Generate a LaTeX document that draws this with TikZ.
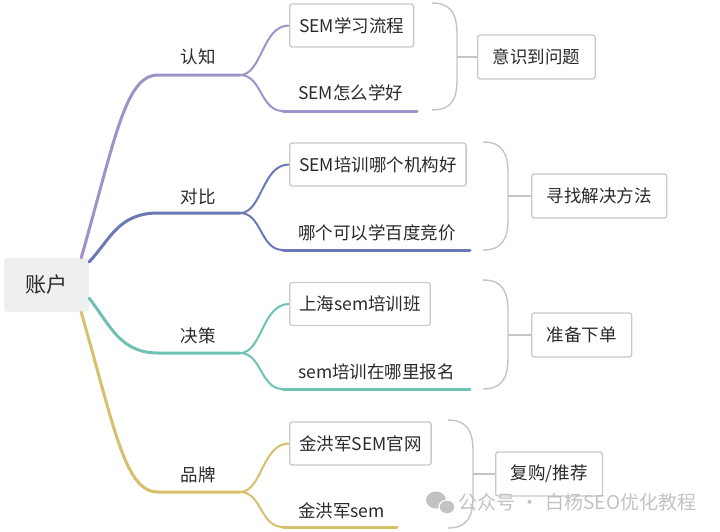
\documentclass[tikz,border=0pt]{standalone}
\usepackage{fontspec}
\setmainfont{Noto Sans CJK SC}
\usepackage{tikz}
\usetikzlibrary{arrows}

\definecolor{cogn}{HTML}{9E93C9}
\definecolor{comp}{HTML}{6C77B6}
\definecolor{deci}{HTML}{6FC1B3}
\definecolor{brand}{HTML}{D8BF6A}
\definecolor{boxgray}{HTML}{C9C9C9}
\definecolor{bracegray}{HTML}{C4C4C4}
\definecolor{rootfill}{HTML}{EEF0F0}
\definecolor{txt}{HTML}{2A2A2A}
\definecolor{wm}{HTML}{C2C2C2}

\begin{document}
\begin{tikzpicture}[x=1pt, y=-1pt,
    word/.style={inner sep=0pt, text=txt, font=\fontsize{17.5}{20}\selectfont},
    leaf/.style={word, draw=boxgray, line width=1.3pt, rounded corners=2.5pt,
      fill=white, inner xsep=9.5pt, minimum height=43pt},
    goal/.style={leaf, inner xsep=15pt, minimum height=44pt},
    limb/.style={line width=3pt, line cap=round},
    twig/.style={line width=2pt},
    brace/.style={draw=bracegray, line width=1.4pt}]
    \useasboundingbox (0,0) rectangle (720,531);

    % root
    \node[fill=rootfill, rounded corners=4pt, minimum width=85pt, minimum height=54pt,
      text=txt, font=\fontsize{21}{24}\selectfont] (acct) at (46.5,285) {账户};

    % first level
    \node[word] (rz) at (198,57) {认知};
    \node[word] (db) at (198,197) {对比};
    \node[word] (jc) at (198,336) {决策};
    \node[word] (pp) at (198,475) {品牌};
    \coordinate (rz-a) at (158,75);  \coordinate (rz-b) at (240,75);
    \coordinate (db-a) at (158,213); \coordinate (db-b) at (240,213);
    \coordinate (jc-a) at (158,353); \coordinate (jc-b) at (240,353);
    \coordinate (pp-a) at (158,492); \coordinate (pp-b) at (240,492);

    % leaves
    \node[leaf, anchor=west] (rz1) at (289,25.5) {SEM学习流程};
    \node[word, anchor=west] (rz2) at (298,93) {SEM怎么学好};
    \node[leaf, anchor=west] (db1) at (289,164.5) {SEM培训哪个机构好};
    \node[word, anchor=west] (db2) at (298,233) {哪个可以学百度竞价};
    \node[leaf, anchor=west] (jc1) at (289,304) {上海sem培训班};
    \node[word, anchor=west] (jc2) at (298,372) {sem培训在哪里报名};
    \node[leaf, anchor=west] (pp1) at (289,443.5) {金洪军SEM官网};
    \node[word, anchor=west] (pp2) at (298,511) {金洪军sem};
    \coordinate (rz2-a) at (283,111); \coordinate (rz2-b) at (417,111);
    \coordinate (db2-a) at (283,250); \coordinate (db2-b) at (470,250);
    \coordinate (jc2-a) at (283,389); \coordinate (jc2-b) at (470,389);
    \coordinate (pp2-a) at (283,527); \coordinate (pp2-b) at (397,527);

    % summaries
    \node[goal, anchor=west] (rzG) at (477,57) {意识到问题};
    \node[goal, anchor=west] (dbG) at (531,196) {寻找解决方法};
    \node[goal, anchor=west] (jcG) at (531,335) {准备下单};
    \node[goal, anchor=west] (ppG) at (495,474) {复购/推荐};

    % root to first level
    \draw[limb, cogn] ([xshift=-8pt]acct.north east) .. controls (115,140) and (125,75) .. (rz-a) -- (rz-b);
    \draw[limb, comp] ([yshift=-4pt]acct.north east) .. controls (110,240) and (118,213) .. (db-a) -- (db-b);
    \draw[limb, deci] ([yshift=14pt]acct.south east) .. controls (110,325) and (120,353) .. (jc-a) -- (jc-b);
    \draw[limb, brand] ([xshift=-8pt]acct.south east) .. controls (115,430) and (125,492) .. (pp-a) -- (pp-b);

    % first level to leaves
    \draw[twig, cogn] (rz-b) .. controls (262,75) and (262,25.5) .. (rz1.west);
    \draw[twig, cogn] (rz-b) .. controls (262,75) and (260,111) .. (rz2-a);
    \draw[limb, cogn] (rz2-a) -- (rz2-b);
    \draw[twig, comp] (db-b) .. controls (262,213) and (262,164.5) .. (db1.west);
    \draw[twig, comp] (db-b) .. controls (262,213) and (260,250) .. (db2-a);
    \draw[limb, comp] (db2-a) -- (db2-b);
    \draw[twig, deci] (jc-b) .. controls (262,353) and (262,304) .. (jc1.west);
    \draw[twig, deci] (jc-b) .. controls (262,353) and (260,389) .. (jc2-a);
    \draw[limb, deci] (jc2-a) -- (jc2-b);
    \draw[twig, brand] (pp-b) .. controls (262,492) and (262,443.5) .. (pp1.west);
    \draw[twig, brand] (pp-b) .. controls (262,492) and (260,527) .. (pp2-a);
    \draw[limb, brand] (pp2-a) -- (pp2-b);

    % brackets
    \draw[brace] (432,3) .. controls (451,3) and (457,14) .. (457,34) -- (457,80)
      .. controls (457,100) and (451,110) .. (432,110);
    \draw[brace] (457,57) -- (rzG.west);
    \draw[brace] (483,142) .. controls (502,142) and (508,153) .. (508,173) -- (508,219)
      .. controls (508,239) and (502,250) .. (483,250);
    \draw[brace] (508,196) -- (dbG.west);
    \draw[brace] (483,280) .. controls (502,280) and (508,291) .. (508,311) -- (508,358)
      .. controls (508,378) and (502,389) .. (483,389);
    \draw[brace] (508,335) -- (jcG.west);
    \draw[brace] (448,420) .. controls (467,420) and (473,431) .. (473,451) -- (473,497)
      .. controls (473,517) and (467,528) .. (448,528);
    \draw[brace] (473,474) -- (ppG.west);

    % watermark
    \fill[wm] (436,500) ellipse (10 and 8.5);
    \filldraw[fill=wm, draw=white, line width=1.2pt] (447,507) ellipse (8 and 7);
    \node[inner sep=0pt, anchor=west, text=wm, font=\fontsize{19}{22}\selectfont] (wmk)
      at (458,502) {公众号\hspace{0.3em}·\hspace{0.3em}白杨SEO优化教程};
\end{tikzpicture}
\end{document}
